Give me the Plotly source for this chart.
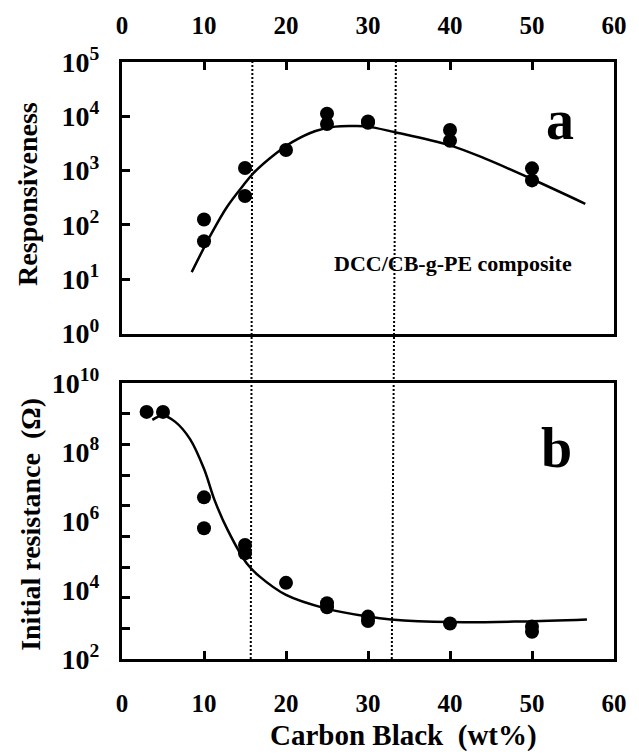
import numpy as np
import plotly.graph_objects as go

# ---------------- data ----------------
# panel a: responsiveness
a_x = [10, 10, 15, 15, 20, 25, 25, 30, 30, 40, 40, 50, 50]
a_y = [126, 50, 1120, 340, 2400, 11200, 7200, 8000, 7600, 5600, 3550, 1100, 660]
fit_a_x = [8.5, 10.9, 12.8, 14.8, 16.0, 18.8, 20.8, 23.6, 26.0, 28.4, 30.0, 33.2, 39.9, 44.3, 49.9, 56.5]
fit_a_y = [13.5, 69, 214, 537, 891, 2089, 3388, 5370, 6457, 6607, 6457, 5129, 2951, 1660, 708, 245]

# panel b: initial resistance (ohm)
b_x = [3, 5, 10, 10, 15, 15, 20, 25, 25, 30, 30, 40, 50, 50]
b_y = [1.48e9, 1.48e9, 4.9e6, 6.2e5, 2.04e5, 1.17e5, 1.62e4, 4170, 3160, 1700, 1260, 1070, 870, 617]
fit_b_x = [3.7, 5.0, 6.5, 8.3, 10.0, 11.3, 12.85, 15.2, 16.8, 20.0, 24.8, 30.0, 32.8, 40.0, 48.7, 56.7]
fit_b_y = [8.7e8, 1.17e9, 7.6e8, 2.4e8, 3.3e7, 4.0e6, 5.75e5, 6.0e4, 2.45e4, 7240, 2950, 1700, 1410, 1175, 1230, 1410]

# dotted reference lines (x at bottom, x at top)
vline_bottom = [15.7, 32.9]
vline_top = [15.9, 33.4]

# ticks
x_ticks = [0, 10, 20, 30, 40, 50, 60]
x_ticktext = ["0", "10", "20", "30", "40", "50", "60"]
a_tickvals = [1, 10, 100, 1000, 1e4, 1e5]
a_ticktext = ["10<sup>0</sup>", "10<sup>1</sup>", "10<sup>2</sup>", "10<sup>3</sup>", "10<sup>4</sup>", "10<sup>5</sup>"]
b_tickvals = [1e2, 1e4, 1e6, 1e8, 1e10]
b_ticktext = ["10<sup>2</sup>", "10<sup>4</sup>", "10<sup>6</sup>", "10<sup>8</sup>", "10<sup>10</sup>"]
b_minor_exp = [2 + 8 * k / 9 for k in range(1, 9)]
b_minor_vals = [10 ** e for e in b_minor_exp]

FONT = "Liberation Serif"
W, H = 639, 755
L, R, T, B = 122, 15, 62, 96


def xp(px):
    return (px - L) / (W - L - R)


def yp(py):
    return (H - B - py) / (H - T - B)


fig = go.Figure()
mk = dict(color="black", size=14)
fig.add_trace(go.Scatter(x=fit_a_x, y=fit_a_y, mode="lines", line=dict(color="black", width=2.5, shape="spline"),
                         xaxis="x", yaxis="y", showlegend=False))
fig.add_trace(go.Scatter(x=a_x, y=a_y, mode="markers", marker=mk, xaxis="x", yaxis="y", showlegend=False))
fig.add_trace(go.Scatter(x=fit_b_x, y=fit_b_y, mode="lines", line=dict(color="black", width=2.5, shape="spline"),
                         xaxis="x2", yaxis="y2", showlegend=False))
fig.add_trace(go.Scatter(x=b_x, y=b_y, mode="markers", marker=mk, xaxis="x2", yaxis="y2", showlegend=False))

tickfont_x = dict(family=FONT, size=25, color="black", weight="bold")
tickfont_y = dict(family=FONT, size=28, color="black", weight="bold")
axis_common = dict(showline=True, linewidth=3, linecolor="black", mirror=True, showgrid=False,
                   zeroline=False, ticks="inside", ticklen=8, tickwidth=3, tickcolor="black")

top_dom = [yp(333.5), 1]
bot_dom = [0, yp(383.3)]

fig.update_layout(
    width=W, height=H,
    margin=dict(l=L, r=R, t=T, b=B),
    paper_bgcolor="white", plot_bgcolor="white",
    xaxis=dict(axis_common, range=[0, 60], side="top", anchor="y", domain=[0, 1],
               tickvals=x_ticks, ticktext=x_ticktext, tickfont=tickfont_x, ticklabelstandoff=15),
    yaxis=dict(axis_common, type="log", range=[0, 5], domain=top_dom, anchor="x",
               tickvals=a_tickvals, ticktext=a_ticktext, tickfont=tickfont_y, ticklabelstandoff=14),
    xaxis2=dict(axis_common, range=[0, 60], side="bottom", anchor="y2", domain=[0, 1],
                tickvals=x_ticks, ticktext=x_ticktext, tickfont=tickfont_x, ticklabelstandoff=20),
    yaxis2=dict(axis_common, type="log", range=[2, 10], domain=bot_dom, anchor="x2",
                tickvals=b_tickvals, ticktext=b_ticktext, tickfont=tickfont_y, ticklabelstandoff=14,
                ticks="",
                minor=dict(tickmode="array", tickvals=b_minor_vals, ticks="inside", ticklen=8,
                           tickwidth=3, tickcolor="black", showgrid=False)),
)

for xb, xt in zip(vline_bottom, vline_top):
    fig.add_shape(type="line", xref="x", yref="paper", x0=xb, x1=xt, y0=0, y1=1,
                  line=dict(color="black", width=2, dash="2px,2px"), layer="above")

ann_font = lambda s: dict(family=FONT, size=s, color="black", weight="bold")
fig.add_annotation(text="Responsiveness", xref="paper", yref="paper", x=xp(26), y=yp(194),
                   showarrow=False, textangle=-90, font=ann_font(28), xanchor="center", yanchor="middle")
fig.add_annotation(text="Initial resistance\u00a0\u00a0(\u03a9)", xref="paper", yref="paper", x=xp(28), y=yp(524),
                   showarrow=False, textangle=-90, font=ann_font(28), xanchor="center", yanchor="middle")
fig.add_annotation(text="Carbon Black\u00a0\u00a0(wt%)", xref="paper", yref="paper", x=xp(409), y=yp(735),
                   showarrow=False, font=ann_font(29), xanchor="center", yanchor="middle")
fig.add_annotation(text="DCC/CB-g-PE composite", xref="paper", yref="paper", x=xp(460), y=yp(263),
                   showarrow=False, font=ann_font(22), xanchor="center", yanchor="middle")
fig.add_annotation(text="a", xref="paper", yref="paper", x=xp(569), y=yp(120),
                   showarrow=False, font=ann_font(56), xanchor="center", yanchor="middle")
fig.add_annotation(text="b", xref="paper", yref="paper", x=xp(565), y=yp(448),
                   showarrow=False, font=ann_font(56), xanchor="center", yanchor="middle")

fig.write_html("out.html")
